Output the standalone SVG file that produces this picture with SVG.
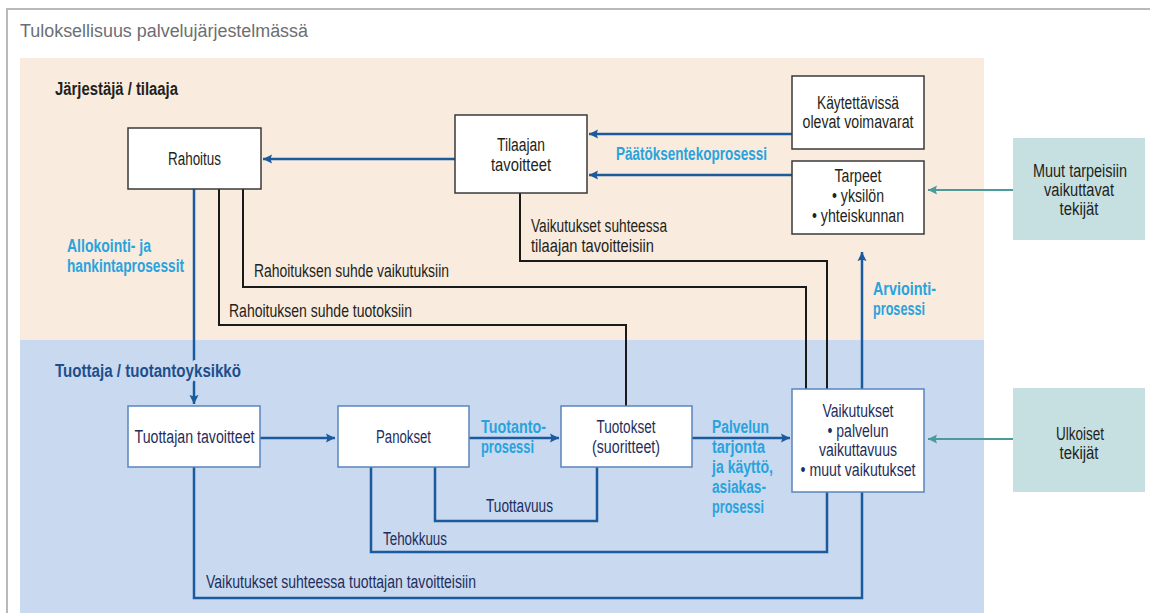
<svg xmlns="http://www.w3.org/2000/svg" width="1150" height="613" viewBox="0 0 1150 613">
  <style>
    text { font-family: "Liberation Sans", Arial, sans-serif; font-size: 18px; }
    .title { font-size: 18px; fill: #6d6e71; }
    .head { font-weight: bold; font-size: 17.5px; }
    .dark { fill: #231f20; }
    .navy { fill: #1f2e5c; }
    .proc { fill: #29a3dd; font-weight: bold; font-size: 17.5px; }
    .mid { text-anchor: middle; }
    .knock { paint-order: stroke; stroke: #c9d9f0; stroke-width: 8px; stroke-linejoin: round; }
    .box-p { fill: #ffffff; stroke: #3a3a3a; stroke-width: 1.5; }
    .box-b { fill: #ffffff; stroke: #5a85bc; stroke-width: 1.5; }
    .box-t { fill: #c6e0e1; }
    .blue { fill: none; stroke: #1b5a9c; stroke-width: 2.5; }
    .black { fill: none; stroke: #1a1a1a; stroke-width: 2; }
    .teal { fill: none; stroke: #4c9a9a; stroke-width: 2; }
  </style>
  <defs>
    <marker id="ah-blue" markerUnits="userSpaceOnUse" markerWidth="10" markerHeight="10" refX="9" refY="5" orient="auto">
      <path d="M0,0.5 L9,5 L0,9.5 L1.5,5 Z" fill="#1b5a9c"/>
    </marker>
    <marker id="ah-teal" markerUnits="userSpaceOnUse" markerWidth="10" markerHeight="10" refX="9" refY="5" orient="auto">
      <path d="M0,0.5 L9,5 L0,9.5 L1.5,5 Z" fill="#4c9a9a"/>
    </marker>
  </defs>

  <!-- page frame and title -->
  <rect x="7" y="9" width="1160" height="620" fill="#ffffff" stroke="#b9b9b9" stroke-width="2"/>
  <text class="title" x="20" y="37" textLength="288" lengthAdjust="spacingAndGlyphs">Tuloksellisuus palvelujärjestelmässä</text>

  <!-- bands -->
  <rect x="20" y="58" width="964" height="282" fill="#f9ebde"/>
  <rect x="20" y="340" width="964" height="273" fill="#c9d9f0"/>
  <text class="head dark" x="55" y="95" textLength="123" lengthAdjust="spacingAndGlyphs">Järjestäjä / tilaaja</text>

  <!-- connectors -->
  <g id="connectors">
    <path class="blue" d="M455,159 H263" marker-end="url(#ah-blue)"/>
    <path class="blue" d="M792,134 H589" marker-end="url(#ah-blue)"/>
    <path class="blue" d="M792,175 H589" marker-end="url(#ah-blue)"/>
    <path class="blue" d="M194,189 V404" marker-end="url(#ah-blue)"/>
    <path class="blue" d="M260,438 H335" marker-end="url(#ah-blue)"/>
    <path class="blue" d="M469,438 H559" marker-end="url(#ah-blue)"/>
    <path class="blue" d="M692,438 H790" marker-end="url(#ah-blue)"/>
    <path class="blue" d="M862,389 V252" marker-end="url(#ah-blue)"/>
    <path class="blue" d="M435,467 V521 H597 V467"/>
    <path class="blue" d="M371,467 V552 H827 V492"/>
    <path class="blue" d="M194,467 V598 H862 V492"/>
    <path class="black" d="M219,189 V325 H626 V406"/>
    <path class="black" d="M243,189 V287 H806 V389"/>
    <path class="black" d="M520,193 V261 H827 V389"/>
    <path class="teal" d="M1013,190 H928" marker-end="url(#ah-teal)"/>
    <path class="teal" d="M1013,439 H928" marker-end="url(#ah-teal)"/>
  </g>

  <!-- producer band heading, drawn over the allocation line -->
  <text class="head knock" x="55" y="377" fill="#1d4f8c" textLength="186" lengthAdjust="spacingAndGlyphs">Tuottaja / tuotantoyksikkö</text>

  <!-- connector labels -->
  <g id="labels">
    <text class="proc" x="67" y="252" textLength="84" lengthAdjust="spacingAndGlyphs">Allokointi- ja</text>
    <text class="proc" x="67" y="272" textLength="117" lengthAdjust="spacingAndGlyphs">hankintaprosessit</text>
    <text class="dark" x="254" y="277" textLength="195" lengthAdjust="spacingAndGlyphs">Rahoituksen suhde vaikutuksiin</text>
    <text class="dark" x="229" y="317" textLength="183" lengthAdjust="spacingAndGlyphs">Rahoituksen suhde tuotoksiin</text>
    <text class="proc" x="616" y="160" textLength="151" lengthAdjust="spacingAndGlyphs">Päätöksentekoprosessi</text>
    <text class="dark" x="531" y="232" textLength="136" lengthAdjust="spacingAndGlyphs">Vaikutukset suhteessa</text>
    <text class="dark" x="531" y="252" textLength="123" lengthAdjust="spacingAndGlyphs">tilaajan tavoitteisiin</text>
    <text class="proc" x="873" y="295" textLength="63" lengthAdjust="spacingAndGlyphs">Arviointi-</text>
    <text class="proc" x="873" y="315" textLength="52" lengthAdjust="spacingAndGlyphs">prosessi</text>
    <text class="proc" x="481" y="433" textLength="65" lengthAdjust="spacingAndGlyphs">Tuotanto-</text>
    <text class="proc" x="481" y="453" textLength="53" lengthAdjust="spacingAndGlyphs">prosessi</text>
    <text class="proc" x="712" y="433" textLength="57" lengthAdjust="spacingAndGlyphs">Palvelun</text>
    <text class="proc" x="712" y="453" textLength="53" lengthAdjust="spacingAndGlyphs">tarjonta</text>
    <text class="proc" x="712" y="473" textLength="61" lengthAdjust="spacingAndGlyphs">ja käyttö,</text>
    <text class="proc" x="712" y="493" textLength="54" lengthAdjust="spacingAndGlyphs">asiakas-</text>
    <text class="proc" x="712" y="513" textLength="52" lengthAdjust="spacingAndGlyphs">prosessi</text>
    <text class="navy" x="486" y="512" textLength="67" lengthAdjust="spacingAndGlyphs">Tuottavuus</text>
    <text class="navy" x="383" y="545" textLength="64" lengthAdjust="spacingAndGlyphs">Tehokkuus</text>
    <text class="navy" x="206" y="588" textLength="270" lengthAdjust="spacingAndGlyphs">Vaikutukset suhteessa tuottajan tavoitteisiin</text>
  </g>

  <!-- nodes -->
  <g id="rahoitus">
    <rect class="box-p" x="128" y="128" width="133" height="61"/>
    <text class="dark mid" x="194.5" y="165" textLength="53" lengthAdjust="spacingAndGlyphs">Rahoitus</text>
  </g>
  <g id="tilaajan-tavoitteet">
    <rect class="box-p" x="455" y="115" width="132" height="78"/>
    <text class="dark mid" x="521" y="151" textLength="48" lengthAdjust="spacingAndGlyphs">Tilaajan</text>
    <text class="dark mid" x="521" y="171" textLength="60" lengthAdjust="spacingAndGlyphs">tavoitteet</text>
  </g>
  <g id="voimavarat">
    <rect class="box-p" x="792" y="76" width="132" height="73"/>
    <text class="dark mid" x="858" y="109" textLength="82" lengthAdjust="spacingAndGlyphs">Käytettävissä</text>
    <text class="dark mid" x="858" y="128" textLength="111" lengthAdjust="spacingAndGlyphs">olevat voimavarat</text>
  </g>
  <g id="tarpeet">
    <rect class="box-p" x="792" y="161" width="132" height="73"/>
    <text class="dark mid" x="858" y="182" textLength="47" lengthAdjust="spacingAndGlyphs">Tarpeet</text>
    <text class="dark mid" x="858" y="202" textLength="52" lengthAdjust="spacingAndGlyphs">• yksilön</text>
    <text class="dark mid" x="858" y="222" textLength="92" lengthAdjust="spacingAndGlyphs">• yhteiskunnan</text>
  </g>
  <g id="muut-tekijat">
    <rect class="box-t" x="1013" y="138" width="132" height="102"/>
    <text class="dark mid" x="1080" y="177" textLength="94" lengthAdjust="spacingAndGlyphs">Muut tarpeisiin</text>
    <text class="dark mid" x="1079" y="196" textLength="70" lengthAdjust="spacingAndGlyphs">vaikuttavat</text>
    <text class="dark mid" x="1079" y="215" textLength="39" lengthAdjust="spacingAndGlyphs">tekijät</text>
  </g>
  <g id="tuottajan-tavoitteet">
    <rect class="box-b" x="128" y="406" width="132" height="61"/>
    <text class="navy mid" x="194.5" y="443" textLength="120" lengthAdjust="spacingAndGlyphs">Tuottajan tavoitteet</text>
  </g>
  <g id="panokset">
    <rect class="box-b" x="338" y="406" width="131" height="61"/>
    <text class="navy mid" x="403.5" y="443" textLength="55" lengthAdjust="spacingAndGlyphs">Panokset</text>
  </g>
  <g id="tuotokset">
    <rect class="box-b" x="561" y="406" width="131" height="61"/>
    <text class="navy mid" x="626" y="433" textLength="59" lengthAdjust="spacingAndGlyphs">Tuotokset</text>
    <text class="navy mid" x="626" y="453" textLength="68" lengthAdjust="spacingAndGlyphs">(suoritteet)</text>
  </g>
  <g id="vaikutukset">
    <rect class="box-b" x="792" y="389" width="132" height="103"/>
    <text class="navy mid" x="858" y="417" textLength="71" lengthAdjust="spacingAndGlyphs">Vaikutukset</text>
    <text class="navy mid" x="858" y="437" textLength="61" lengthAdjust="spacingAndGlyphs">• palvelun</text>
    <text class="navy mid" x="858" y="456" textLength="78" lengthAdjust="spacingAndGlyphs">vaikuttavuus</text>
    <text class="navy mid" x="858" y="476" textLength="115" lengthAdjust="spacingAndGlyphs">• muut vaikutukset</text>
  </g>
  <g id="ulkoiset-tekijat">
    <rect class="box-t" x="1013" y="388" width="132" height="104"/>
    <text class="dark mid" x="1080" y="440" textLength="48" lengthAdjust="spacingAndGlyphs">Ulkoiset</text>
    <text class="dark mid" x="1079" y="459" textLength="39" lengthAdjust="spacingAndGlyphs">tekijät</text>
  </g>
</svg>
